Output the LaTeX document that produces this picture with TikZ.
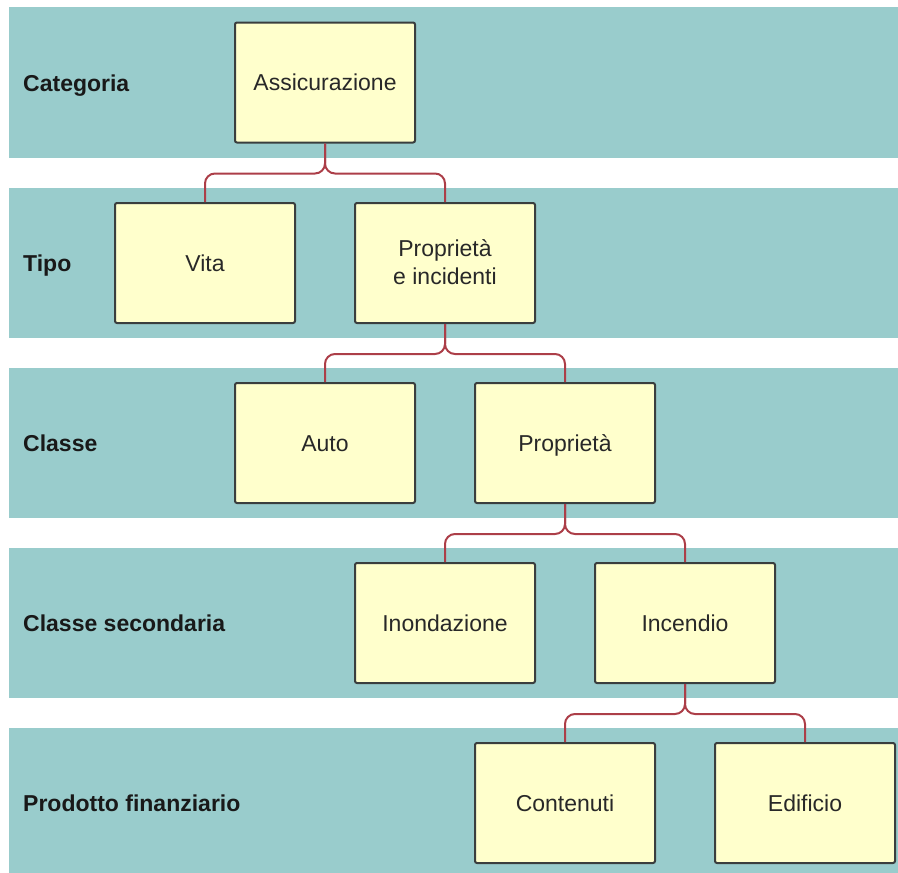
\documentclass[tikz,border=0pt]{standalone}
\usepackage{fontspec}
\setmainfont{Liberation Sans}
\definecolor{bandcol}{RGB}{153,204,204}
\definecolor{boxfill}{RGB}{255,255,204}
\definecolor{boxline}{RGB}{58,62,62}
\definecolor{conncol}{RGB}{172,62,72}
\definecolor{txtcol}{RGB}{40,40,40}
\begin{document}
\begin{tikzpicture}[x=1pt,y=-1pt,
  band/.style={fill=bandcol,draw=none},
  lvl/.style={anchor=base west,inner sep=0,font=\fontsize{23}{27}\selectfont\bfseries,text=black!90},
  entity/.style={draw=boxline,fill=boxfill,line width=2pt,rounded corners=2pt,
     minimum width=180pt,minimum height=120pt,inner sep=0pt,align=center,
     text height=16.5pt,text depth=0pt,text=txtcol,
     font=\fontsize{23}{28}\selectfont},
  conn/.style={draw=conncol,line width=2pt,rounded corners=10pt}]
\useasboundingbox (0,0) rectangle (898,873);
% bands
\fill[band] (9,7) rectangle (898,158);
\fill[band] (9,188) rectangle (898,338);
\fill[band] (9,368) rectangle (898,518);
\fill[band] (9,548) rectangle (898,698);
\fill[band] (9,728) rectangle (898,873);
% level labels
\node[lvl] (l1) at (23,91) {Categoria};
\node[lvl] (l2) at (23,271.5) {Tipo};
\node[lvl] (l3) at (23,451.5) {Classe};
\node[lvl] (l4) at (23,631.5) {Classe secondaria};
\node[lvl] (l5) at (23,811.5) {Prodotto finanziario};
% boxes
\node[entity] (ass) at (325,82.5) {Assicurazione};
\node[entity] (vita) at (205,263) {Vita};
\node[entity,text height=42pt,text depth=0pt] (pei) at (445,263) {Proprietà\\e incidenti};
\node[entity] (auto) at (325,443) {Auto};
\node[entity] (prop) at (565,443) {Proprietà};
\node[entity] (inon) at (445,623) {Inondazione};
\node[entity] (inc) at (685,623) {Incendio};
\node[entity] (cont) at (565,803) {Contenuti};
\node[entity] (edif) at (805,803) {Edificio};
% connectors
\draw[conn] (ass.south) -- ++(0,30) -| (vita.north);
\draw[conn] (ass.south) -- ++(0,30) -| (pei.north);
\draw[conn] (pei.south) -- ++(0,30) -| (auto.north);
\draw[conn] (pei.south) -- ++(0,30) -| (prop.north);
\draw[conn] (prop.south) -- ++(0,30) -| (inon.north);
\draw[conn] (prop.south) -- ++(0,30) -| (inc.north);
\draw[conn] (inc.south) -- ++(0,30) -| (cont.north);
\draw[conn] (inc.south) -- ++(0,30) -| (edif.north);
\end{tikzpicture}
\end{document}
